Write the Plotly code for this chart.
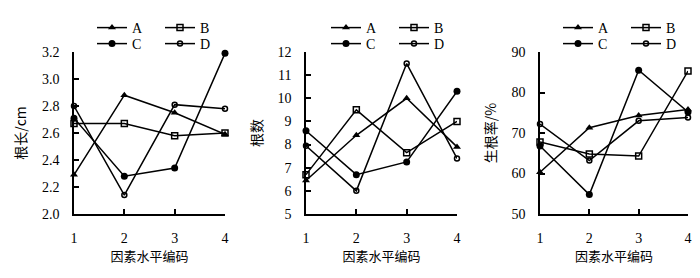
import plotly.graph_objects as go

x_levels = [1, 2, 3, 4]
series_names = ["A", "B", "C", "D"]

# Panel 1: root length (cm)
root_length = {
    "A": [2.29, 2.88, 2.75, 2.59],
    "B": [2.67, 2.67, 2.58, 2.60],
    "C": [2.71, 2.28, 2.34, 3.19],
    "D": [2.80, 2.14, 2.81, 2.78],
}
# Panel 2: root number
root_number = {
    "A": [6.45, 8.4, 10.0, 7.9],
    "B": [6.7, 9.5, 7.65, 9.0],
    "C": [8.6, 6.7, 7.25, 10.3],
    "D": [7.95, 6.0, 11.5, 7.4],
}
# Panel 3: rooting rate (%)
rooting_rate = {
    "A": [60.3, 71.3, 74.3, 75.8],
    "B": [67.8, 64.8, 64.3, 85.3],
    "C": [66.8, 54.8, 85.5, 75.2],
    "D": [72.2, 63.2, 73.0, 73.8],
}

y_titles = ["根长/cm", "根数", "生根率/%"]
x_title = "因素水平编码"
y_ranges = [[2.0, 3.2], [5, 12], [50, 90]]
y_ticks = [[2.0, 2.2, 2.4, 2.6, 2.8, 3.0, 3.2], [5, 6, 7, 8, 9, 10, 11, 12], [50, 60, 70, 80, 90]]
y_ticktext = [["2.0", "2.2", "2.4", "2.6", "2.8", "3.0", "3.2"], None, None]

markers = {
    "A": dict(symbol="triangle-up", size=7, color="black"),
    "B": dict(symbol="square-open", size=6, color="black", line=dict(width=1.5, color="black")),
    "C": dict(symbol="circle", size=7, color="black"),
    "D": dict(symbol="circle-open", size=5, color="black", line=dict(width=1.5, color="black")),
}

W, H = 700, 278
x_domains = [[74 / W, 225 / W], [306 / W, 457 / W], [540 / W, 688 / W]]
y_domain = [(H - 214) / H, (H - 52) / H]
legend_x_px = [92, 326, 558]
legend_rows_px = [28, 44]

fig = go.Figure()
serif = "Liberation Serif"
cjk = "Noto Sans CJK SC"

datasets = [root_length, root_number, rooting_rate]
for p, data in enumerate(datasets):
    xa = "x" if p == 0 else f"x{p + 1}"
    ya = "y" if p == 0 else f"y{p + 1}"
    for i, name in enumerate(series_names):
        row = 0 if name in ("A", "B") else 1
        leg_idx = p * 2 + row
        leg = "legend" if leg_idx == 0 else f"legend{leg_idx + 1}"
        fig.add_trace(go.Scatter(
            x=x_levels, y=data[name], name=name, mode="lines+markers",
            line=dict(color="black", width=1.5), marker=markers[name],
            xaxis=xa, yaxis=ya, legend=leg, cliponaxis=False,
        ))

layout = dict(
    width=W, height=H, margin=dict(l=0, r=0, t=0, b=0, autoexpand=False),
    paper_bgcolor="white", plot_bgcolor="white", showlegend=True,
)
for p in range(3):
    xk = "xaxis" if p == 0 else f"xaxis{p + 1}"
    yk = "yaxis" if p == 0 else f"yaxis{p + 1}"
    anchor_y = "y" if p == 0 else f"y{p + 1}"
    anchor_x = "x" if p == 0 else f"x{p + 1}"
    layout[xk] = dict(
        domain=x_domains[p], anchor=anchor_y, range=[1, 4], tickvals=x_levels,
        showline=True, linecolor="black", linewidth=1.5, ticks="inside", ticklen=5,
        tickwidth=1.5, tickcolor="black", showgrid=False, zeroline=False,
        tickfont=dict(family=serif, size=14, color="black"), ticklabelstandoff=10,
        title=dict(text=x_title, font=dict(family=cjk, size=13, color="black"), standoff=6),
    )
    yax = dict(
        domain=y_domain, anchor=anchor_x, range=y_ranges[p], tickvals=y_ticks[p],
        showline=True, linecolor="black", linewidth=1.5, ticks="inside", ticklen=5,
        tickwidth=1.5, tickcolor="black", showgrid=False, zeroline=False,
        tickfont=dict(family=serif, size=14, color="black"), ticklabelstandoff=10,
        title=dict(text=y_titles[p], font=dict(family=cjk, size=14, color="black"), standoff=12),
    )
    if y_ticktext[p]:
        yax["ticktext"] = y_ticktext[p]
    layout[yk] = yax
    for row in range(2):
        leg_idx = p * 2 + row
        lk = "legend" if leg_idx == 0 else f"legend{leg_idx + 1}"
        layout[lk] = dict(
            orientation="h", x=legend_x_px[p] / W, xanchor="left",
            y=(H - legend_rows_px[row]) / H, yanchor="middle",
            xref="container", yref="container",
            entrywidth=23, entrywidthmode="pixels", bgcolor="rgba(0,0,0,0)",
            font=dict(family=serif, size=14, color="black"), itemwidth=30,
            tracegroupgap=0,
        )

fig.update_layout(**layout)
fig.write_html(
    "out.html",
    config={"displayModeBar": False},
    post_script="document.body.style.margin='0px';document.body.style.padding='0px';document.body.style.overflow='hidden';",
)
